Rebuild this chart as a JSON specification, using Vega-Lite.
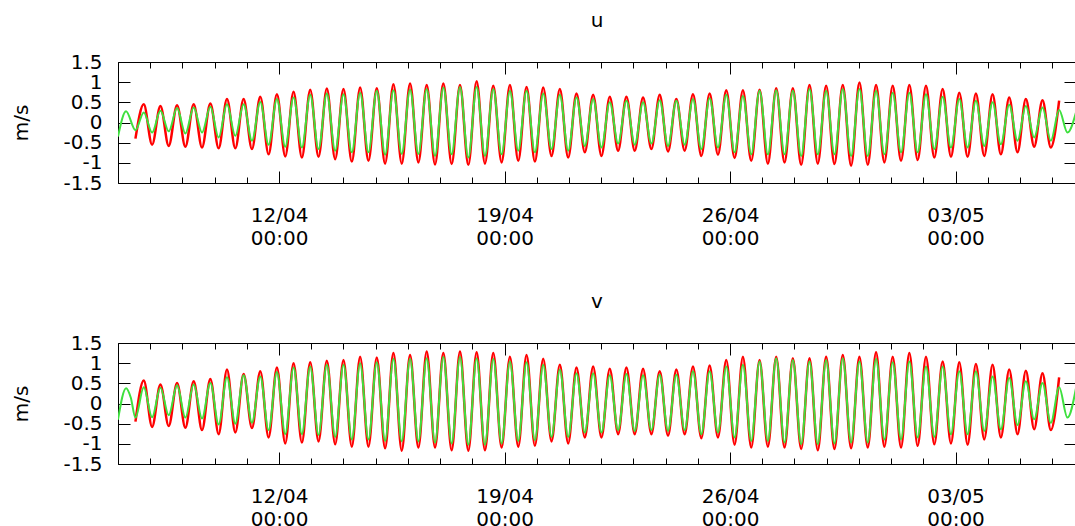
{
  "$schema": "https://vega.github.io/schema/vega-lite/v6.json",
  "padding": {"left": 10, "top": 10, "right": 0, "bottom": 0},
  "background": "white",
  "datasets": {
    "d": [
      {"t":"2015-04-07T00:00Z","ug":-0.35,"vg":-0.40},
      {"t":"2015-04-07T06:00Z","ug":0.28,"vg":0.38},
      {"t":"2015-04-07T09:30Z","vg":0.15},
      {"t":"2015-04-07T13:00Z","ur":-0.40,"ug":-0.19,"vr":-0.45,"vg":-0.35},
      {"t":"2015-04-07T19:12Z","ur":0.45,"ug":0.25,"vr":0.57,"vg":0.40},
      {"t":"2015-04-08T01:24Z","ur":-0.55,"ug":-0.25,"vr":-0.58,"vg":-0.34},
      {"t":"2015-04-08T07:36Z","ur":0.41,"ug":0.29,"vr":0.47,"vg":0.39},
      {"t":"2015-04-08T13:48Z","ur":-0.58,"ug":-0.22,"vr":-0.56,"vg":-0.29},
      {"t":"2015-04-08T20:00Z","ur":0.43,"ug":0.36,"vr":0.51,"vg":0.45},
      {"t":"2015-04-09T02:12Z","ur":-0.60,"ug":-0.27,"vr":-0.60,"vg":-0.35},
      {"t":"2015-04-09T08:24Z","ur":0.45,"ug":0.37,"vr":0.55,"vg":0.47},
      {"t":"2015-04-09T14:36Z","ur":-0.62,"ug":-0.25,"vr":-0.66,"vg":-0.37},
      {"t":"2015-04-09T20:48Z","ur":0.47,"ug":0.39,"vr":0.61,"vg":0.51},
      {"t":"2015-04-10T03:00Z","ur":-0.64,"ug":-0.37,"vr":-0.76,"vg":-0.52},
      {"t":"2015-04-10T09:12Z","ur":0.58,"ug":0.45,"vr":0.84,"vg":0.65},
      {"t":"2015-04-10T15:24Z","ur":-0.64,"ug":-0.33,"vr":-0.72,"vg":-0.50},
      {"t":"2015-04-10T21:36Z","ur":0.58,"ug":0.45,"vr":0.73,"vg":0.70},
      {"t":"2015-04-11T03:48Z","ur":-0.66,"ug":-0.45,"vr":-0.61,"vg":-0.48},
      {"t":"2015-04-11T10:00Z","ur":0.64,"ug":0.51,"vr":0.80,"vg":0.67},
      {"t":"2015-04-11T16:12Z","ur":-0.79,"ug":-0.55,"vr":-0.84,"vg":-0.66},
      {"t":"2015-04-11T22:24Z","ur":0.70,"ug":0.58,"vr":0.89,"vg":0.78},
      {"t":"2015-04-12T04:36Z","ur":-0.84,"ug":-0.60,"vr":-0.99,"vg":-0.76},
      {"t":"2015-04-12T10:48Z","ur":0.76,"ug":0.62,"vr":1.00,"vg":0.89},
      {"t":"2015-04-12T17:00Z","ur":-0.87,"ug":-0.62,"vr":-0.97,"vg":-0.76},
      {"t":"2015-04-12T23:12Z","ur":0.81,"ug":0.69,"vr":1.02,"vg":0.92},
      {"t":"2015-04-13T05:24Z","ur":-0.85,"ug":-0.66,"vr":-0.94,"vg":-0.78},
      {"t":"2015-04-13T11:36Z","ur":0.84,"ug":0.72,"vr":1.06,"vg":0.96},
      {"t":"2015-04-13T17:48Z","ur":-0.91,"ug":-0.70,"vr":-1.01,"vg":-0.83},
      {"t":"2015-04-14T00:00Z","ur":0.83,"ug":0.70,"vr":1.08,"vg":0.96},
      {"t":"2015-04-14T06:12Z","ur":-0.97,"ug":-0.74,"vr":-1.07,"vg":-0.89},
      {"t":"2015-04-14T12:24Z","ur":0.87,"ug":0.74,"vr":1.16,"vg":1.00},
      {"t":"2015-04-14T18:36Z","ur":-0.95,"ug":-0.74,"vr":-1.07,"vg":-0.89},
      {"t":"2015-04-15T00:48Z","ur":0.85,"ug":0.79,"vr":1.14,"vg":1.02},
      {"t":"2015-04-15T07:00Z","ur":-1.02,"ug":-0.80,"vr":-1.11,"vg":-0.93},
      {"t":"2015-04-15T13:12Z","ur":0.95,"ug":0.80,"vr":1.25,"vg":1.11},
      {"t":"2015-04-15T19:24Z","ur":-1.02,"ug":-0.78,"vr":-1.17,"vg":-0.94},
      {"t":"2015-04-16T01:36Z","ur":0.97,"ug":0.82,"vr":1.20,"vg":1.11},
      {"t":"2015-04-16T07:48Z","ur":-0.99,"ug":-0.78,"vr":-1.09,"vg":-0.94},
      {"t":"2015-04-16T14:00Z","ur":0.93,"ug":0.83,"vr":1.29,"vg":1.12},
      {"t":"2015-04-16T20:12Z","ur":-1.04,"ug":-0.83,"vr":-1.09,"vg":-0.97},
      {"t":"2015-04-17T02:24Z","ur":0.97,"ug":0.87,"vr":1.25,"vg":1.16},
      {"t":"2015-04-17T08:36Z","ur":-1.03,"ug":-0.79,"vr":-1.16,"vg":-0.99},
      {"t":"2015-04-17T14:48Z","ur":0.93,"ug":0.88,"vr":1.29,"vg":1.16},
      {"t":"2015-04-17T21:00Z","ur":-1.05,"ug":-0.87,"vr":-1.17,"vg":-1.02},
      {"t":"2015-04-18T03:12Z","ur":1.02,"ug":0.88,"vr":1.27,"vg":1.12},
      {"t":"2015-04-18T09:24Z","ur":-1.02,"ug":-0.83,"vr":-1.16,"vg":-1.02},
      {"t":"2015-04-18T15:36Z","ur":0.91,"ug":0.83,"vr":1.25,"vg":1.11},
      {"t":"2015-04-18T21:48Z","ur":-0.99,"ug":-0.79,"vr":-1.09,"vg":-0.99},
      {"t":"2015-04-19T04:00Z","ur":0.93,"ug":0.79,"vr":1.16,"vg":1.04},
      {"t":"2015-04-19T10:12Z","ur":-0.95,"ug":-0.70,"vr":-1.07,"vg":-0.93},
      {"t":"2015-04-19T16:24Z","ur":0.88,"ug":0.79,"vr":1.20,"vg":1.02},
      {"t":"2015-04-19T22:36Z","ur":-0.97,"ug":-0.74,"vr":-1.05,"vg":-0.91},
      {"t":"2015-04-20T04:48Z","ur":0.87,"ug":0.72,"vr":1.11,"vg":0.96},
      {"t":"2015-04-20T11:00Z","ur":-0.83,"ug":-0.66,"vr":-0.94,"vg":-0.83},
      {"t":"2015-04-20T17:12Z","ur":0.83,"ug":0.69,"vr":0.96,"vg":0.84},
      {"t":"2015-04-20T23:24Z","ur":-0.87,"ug":-0.70,"vr":-0.99,"vg":-0.83},
      {"t":"2015-04-21T05:36Z","ur":0.72,"ug":0.62,"vr":0.89,"vg":0.75},
      {"t":"2015-04-21T11:48Z","ur":-0.74,"ug":-0.58,"vr":-0.84,"vg":-0.72},
      {"t":"2015-04-21T18:00Z","ur":0.69,"ug":0.58,"vr":0.92,"vg":0.75},
      {"t":"2015-04-22T00:12Z","ur":-0.83,"ug":-0.62,"vr":-0.84,"vg":-0.72},
      {"t":"2015-04-22T06:24Z","ur":0.64,"ug":0.50,"vr":0.86,"vg":0.70},
      {"t":"2015-04-22T12:36Z","ur":-0.70,"ug":-0.52,"vr":-0.76,"vg":-0.66},
      {"t":"2015-04-22T18:48Z","ur":0.64,"ug":0.54,"vr":0.89,"vg":0.73},
      {"t":"2015-04-23T01:00Z","ur":-0.70,"ug":-0.55,"vr":-0.76,"vg":-0.68},
      {"t":"2015-04-23T07:12Z","ur":0.62,"ug":0.50,"vr":0.86,"vg":0.70},
      {"t":"2015-04-23T13:24Z","ur":-0.66,"ug":-0.52,"vr":-0.76,"vg":-0.66},
      {"t":"2015-04-23T19:36Z","ur":0.69,"ug":0.55,"vr":0.80,"vg":0.71},
      {"t":"2015-04-24T01:48Z","ur":-0.72,"ug":-0.58,"vr":-0.80,"vg":-0.68},
      {"t":"2015-04-24T08:00Z","ur":0.58,"ug":0.54,"vr":0.84,"vg":0.71},
      {"t":"2015-04-24T14:12Z","ur":-0.70,"ug":-0.55,"vr":-0.76,"vg":-0.66},
      {"t":"2015-04-24T20:24Z","ur":0.70,"ug":0.58,"vr":0.92,"vg":0.80},
      {"t":"2015-04-25T02:36Z","ur":-0.83,"ug":-0.66,"vr":-0.86,"vg":-0.76},
      {"t":"2015-04-25T08:48Z","ur":0.72,"ug":0.60,"vr":0.94,"vg":0.80},
      {"t":"2015-04-25T15:00Z","ur":-0.80,"ug":-0.62,"vr":-0.84,"vg":-0.72},
      {"t":"2015-04-25T21:12Z","ur":0.80,"ug":0.69,"vr":1.08,"vg":0.92},
      {"t":"2015-04-26T03:24Z","ur":-0.88,"ug":-0.74,"vr":-1.02,"vg":-0.84},
      {"t":"2015-04-26T09:36Z","ur":0.80,"ug":0.66,"vr":1.16,"vg":0.96},
      {"t":"2015-04-26T15:48Z","ur":-0.95,"ug":-0.79,"vr":-1.09,"vg":-0.93},
      {"t":"2015-04-26T22:00Z","ur":0.81,"ug":0.79,"vr":1.08,"vg":1.04},
      {"t":"2015-04-27T04:12Z","ur":-1.02,"ug":-0.79,"vr":-1.07,"vg":-0.93},
      {"t":"2015-04-27T10:24Z","ur":0.85,"ug":0.80,"vr":1.16,"vg":1.12},
      {"t":"2015-04-27T16:36Z","ur":-0.99,"ug":-0.79,"vr":-1.09,"vg":-0.97},
      {"t":"2015-04-27T22:48Z","ur":0.85,"ug":0.79,"vr":1.12,"vg":1.08},
      {"t":"2015-04-28T05:00Z","ur":-1.05,"ug":-0.83,"vr":-1.13,"vg":-1.01},
      {"t":"2015-04-28T11:12Z","ur":0.93,"ug":0.83,"vr":1.12,"vg":1.04},
      {"t":"2015-04-28T17:24Z","ur":-1.02,"ug":-0.79,"vr":-1.16,"vg":-1.01},
      {"t":"2015-04-28T23:36Z","ur":0.91,"ug":0.79,"vr":1.16,"vg":1.08},
      {"t":"2015-04-29T05:48Z","ur":-1.03,"ug":-0.79,"vr":-1.13,"vg":-0.99},
      {"t":"2015-04-29T12:00Z","ur":0.93,"ug":0.83,"vr":1.20,"vg":1.12},
      {"t":"2015-04-29T18:12Z","ur":-1.07,"ug":-0.83,"vr":-1.11,"vg":-0.97},
      {"t":"2015-04-30T00:24Z","ur":0.99,"ug":0.83,"vr":1.16,"vg":1.04},
      {"t":"2015-04-30T06:36Z","ur":-1.05,"ug":-0.83,"vr":-1.09,"vg":-0.97},
      {"t":"2015-04-30T12:48Z","ur":0.93,"ug":0.79,"vr":1.27,"vg":1.11},
      {"t":"2015-04-30T19:00Z","ur":-0.99,"ug":-0.79,"vr":-1.07,"vg":-0.89},
      {"t":"2015-05-01T01:12Z","ur":0.91,"ug":0.74,"vr":1.16,"vg":1.02},
      {"t":"2015-05-01T07:24Z","ur":-0.95,"ug":-0.74,"vr":-1.09,"vg":-0.89},
      {"t":"2015-05-01T13:36Z","ur":0.93,"ug":0.74,"vr":1.25,"vg":1.04},
      {"t":"2015-05-01T19:48Z","ur":-0.93,"ug":-0.74,"vr":-1.05,"vg":-0.84},
      {"t":"2015-05-02T02:00Z","ur":0.91,"ug":0.70,"vr":1.16,"vg":0.92},
      {"t":"2015-05-02T08:12Z","ur":-0.87,"ug":-0.66,"vr":-1.01,"vg":-0.83},
      {"t":"2015-05-02T14:24Z","ur":0.83,"ug":0.64,"vr":1.04,"vg":0.92},
      {"t":"2015-05-02T20:36Z","ur":-0.85,"ug":-0.62,"vr":-0.99,"vg":-0.76},
      {"t":"2015-05-03T02:48Z","ur":0.74,"ug":0.58,"vr":1.02,"vg":0.80},
      {"t":"2015-05-03T09:00Z","ur":-0.85,"ug":-0.62,"vr":-1.02,"vg":-0.76},
      {"t":"2015-05-03T15:12Z","ur":0.72,"ug":0.54,"vr":0.98,"vg":0.80},
      {"t":"2015-05-03T21:24Z","ur":-0.83,"ug":-0.58,"vr":-0.89,"vg":-0.68},
      {"t":"2015-05-04T03:36Z","ur":0.70,"ug":0.50,"vr":0.96,"vg":0.67},
      {"t":"2015-05-04T09:48Z","ur":-0.79,"ug":-0.54,"vr":-0.84,"vg":-0.64},
      {"t":"2015-05-04T16:00Z","ur":0.62,"ug":0.44,"vr":0.84,"vg":0.63},
      {"t":"2015-05-04T22:12Z","ur":-0.74,"ug":-0.45,"vr":-0.76,"vg":-0.53},
      {"t":"2015-05-05T04:24Z","ur":0.58,"ug":0.41,"vr":0.81,"vg":0.55},
      {"t":"2015-05-05T10:36Z","ur":-0.60,"ug":-0.37,"vr":-0.64,"vg":-0.39},
      {"t":"2015-05-05T16:48Z","ur":0.55,"ug":0.37,"vr":0.75,"vg":0.51},
      {"t":"2015-05-05T23:00Z","ur":-0.62,"ug":-0.45,"vr":-0.66,"vg":-0.48},
      {"t":"2015-05-06T05:12Z","ur":0.54,"ug":0.31,"vr":0.65,"vg":0.40},
      {"t":"2015-05-06T11:24Z","ug":-0.25,"vg":-0.35},
      {"t":"2015-05-06T18:00Z","ug":0.28,"vg":0.42}
    ]
  },
  "data": {"name": "d"},
  "spacing": 160,
  "bounds": "flush",
  "vconcat": [
    {
      "title": {"text": "u", "baseline": "alphabetic", "offset": 5},
      "width": 958,
      "height": 121,
      "layer": [
        {
          "mark": {"type": "line", "color": "#ff0000", "strokeWidth": 2.5, "interpolate": "monotone", "invalid": "filter", "clip": true},
          "encoding": {
            "x": {"field": "t", "type": "temporal",
              "scale": {"type": "utc", "domain": [{"year": 2015, "month": 4, "date": 7, "utc": true}, {"year": 2015, "month": 5, "date": 6, "hours": 17, "minutes": 46, "utc": true}]},
              "axis": {"orient": "bottom", "title": null, "domain": false, "tickCount": {"interval": "day", "step": 1},
                "tickSize": {"condition": {"test": "(datum.value - utc(2015,3,12)) % 604800000 === 0", "value": -12}, "value": -6},
                "labelExpr": "(datum.value - utc(2015,3,12)) % 604800000 === 0 ? [utcFormat(datum.value, '%d/%m'), '00:00'] : ''",
                "labelPadding": 34, "labelOverlap": false, "labelFlush": false, "labelBound": false, "labelLineHeight": 23}},
            "y": {"field": "ur", "type": "quantitative", "scale": {"domain": [-1.5, 1.5], "nice": false, "zero": false},
              "axis": {"orient": "left", "domain": false, "values": [-1.5, -1, -0.5, 0, 0.5, 1, 1.5], "tickSize": -12, "labelPadding": 28,
                "labelExpr": "'' + datum.value", "labelOverlap": false, "labelFlush": false, "labelBound": false,
                "title": "m/s", "titleX": -97, "titleY": 60.5, "titleAngle": -90, "titleAlign": "center", "titleBaseline": "middle"}}
          }
        },
        {
          "mark": {"type": "line", "color": "#3ee03e", "strokeWidth": 2, "interpolate": "monotone", "invalid": "filter", "clip": true},
          "encoding": {
            "x": {"field": "t", "type": "temporal",
              "axis": {"orient": "top", "title": null, "domain": false, "labels": false, "tickCount": {"interval": "day", "step": 1},
                "tickSize": {"condition": {"test": "(datum.value - utc(2015,3,12)) % 604800000 === 0", "value": -12}, "value": -6}}},
            "y": {"field": "ug", "type": "quantitative",
              "axis": {"orient": "right", "domain": false, "values": [-1.5, -1, -0.5, 0, 0.5, 1, 1.5], "tickSize": -12, "labels": false, "title": null}}
          }
        }
      ],
      "resolve": {"axis": {"x": "independent", "y": "independent"}}
    },
    {
      "title": {"text": "v", "baseline": "alphabetic", "offset": 5},
      "width": 958,
      "height": 121,
      "layer": [
        {
          "mark": {"type": "line", "color": "#ff0000", "strokeWidth": 2.5, "interpolate": "monotone", "invalid": "filter", "clip": true},
          "encoding": {
            "x": {"field": "t", "type": "temporal",
              "scale": {"type": "utc", "domain": [{"year": 2015, "month": 4, "date": 7, "utc": true}, {"year": 2015, "month": 5, "date": 6, "hours": 17, "minutes": 46, "utc": true}]},
              "axis": {"orient": "bottom", "title": null, "domain": false, "tickCount": {"interval": "day", "step": 1},
                "tickSize": {"condition": {"test": "(datum.value - utc(2015,3,12)) % 604800000 === 0", "value": -12}, "value": -6},
                "labelExpr": "(datum.value - utc(2015,3,12)) % 604800000 === 0 ? [utcFormat(datum.value, '%d/%m'), '00:00'] : ''",
                "labelPadding": 34, "labelOverlap": false, "labelFlush": false, "labelBound": false, "labelLineHeight": 23}},
            "y": {"field": "vr", "type": "quantitative", "scale": {"domain": [-1.5, 1.5], "nice": false, "zero": false},
              "axis": {"orient": "left", "domain": false, "values": [-1.5, -1, -0.5, 0, 0.5, 1, 1.5], "tickSize": -12, "labelPadding": 28,
                "labelExpr": "'' + datum.value", "labelOverlap": false, "labelFlush": false, "labelBound": false,
                "title": "m/s", "titleX": -97, "titleY": 60.5, "titleAngle": -90, "titleAlign": "center", "titleBaseline": "middle"}}
          }
        },
        {
          "mark": {"type": "line", "color": "#3ee03e", "strokeWidth": 2, "interpolate": "monotone", "invalid": "filter", "clip": true},
          "encoding": {
            "x": {"field": "t", "type": "temporal",
              "axis": {"orient": "top", "title": null, "domain": false, "labels": false, "tickCount": {"interval": "day", "step": 1},
                "tickSize": {"condition": {"test": "(datum.value - utc(2015,3,12)) % 604800000 === 0", "value": -12}, "value": -6}}},
            "y": {"field": "vg", "type": "quantitative",
              "axis": {"orient": "right", "domain": false, "values": [-1.5, -1, -0.5, 0, 0.5, 1, 1.5], "tickSize": -12, "labels": false, "title": null}}
          }
        }
      ],
      "resolve": {"axis": {"x": "independent", "y": "independent"}}
    }
  ],
  "config": {
    "font": "DejaVu Sans",
    "view": {"stroke": "black", "strokeWidth": 1},
    "axis": {"grid": false, "tickColor": "black", "tickWidth": 1, "labelColor": "black", "labelFont": "DejaVu Sans", "labelFontSize": 20,
      "titleFont": "DejaVu Sans", "titleFontSize": 20, "titleFontWeight": "normal", "titleColor": "black"},
    "title": {"font": "DejaVu Sans", "fontSize": 20, "fontWeight": "normal", "color": "black", "anchor": "middle"}
  }
}
